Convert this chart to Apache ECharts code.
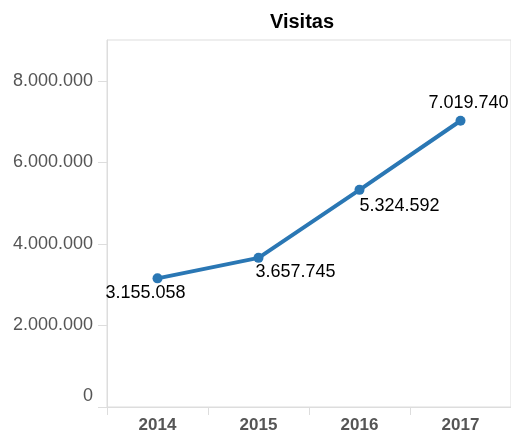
<!DOCTYPE html>
<html><head><meta charset="utf-8">
<script src="https://cdn.jsdelivr.net/npm/echarts@6/dist/echarts.min.js"></script>
<style>html,body{margin:0;padding:0;background:#fff}#c{width:511px;height:437px}</style>
</head><body><div id="c"></div>
<script>
var categories = ['2014', '2015', '2016', '2017'];
var visitas = [3155058, 3657745, 5324592, 7019740];
var yTicks = [0, 2000000, 4000000, 6000000, 8000000];
var labelOffsets = [[-12, 15], [37, 14], [40, 16], [8, -18]];

function fmt(v) {
  return String(v).replace(/\B(?=(\d{3})+(?!\d))/g, '.');
}
var font = "'Liberation Sans', Arial, Helvetica, sans-serif";
var chart = echarts.init(document.getElementById('c'), null, {renderer: 'canvas'});
chart.setOption({
  animation: false,
  title: {
    text: 'Visitas', left: 297, top: 7, textAlign: 'center',
    textStyle: {fontFamily: font, fontSize: 20, fontWeight: 'bold', color: '#000'}
  },
  grid: {left: 107, right: -3, top: 40, bottom: 30, show: true, borderColor: '#ddd', borderWidth: 1, containLabel: false},
  xAxis: {
    type: 'category', data: categories, boundaryGap: true,
    axisLine: {lineStyle: {color: '#ddd', width: 1}},
    axisTick: {show: true, length: 8, lineStyle: {color: '#ddd'}},
    axisLabel: {margin: 10, fontFamily: font, fontSize: 17, fontWeight: 'bold', color: '#555'},
    splitLine: {show: false}
  },
  yAxis: {
    type: 'value', min: 0, max: 9000000,
    axisLine: {show: true, lineStyle: {color: '#ddd', width: 1}},
    axisTick: {show: true, length: 9, customValues: yTicks, lineStyle: {color: '#ddd'}},
    axisLabel: {
      margin: 14, fontFamily: font, fontSize: 18, color: '#555',
      customValues: yTicks,
      formatter: function (v) { return v === 0 ? '{z|0}' : fmt(v); },
      rich: {z: {fontFamily: font, fontSize: 18, color: '#555', padding: [0, 0, 21, 0]}}
    },
    splitLine: {show: false}
  },
  series: [{
    type: 'line',
    data: visitas.map(function (v, i) {
      return {value: v, label: {offset: labelOffsets[i]}};
    }),
    symbol: 'circle', symbolSize: 10,
    lineStyle: {color: '#2a77b4', width: 4},
    itemStyle: {color: '#2a77b4'},
    label: {
      show: true, position: 'inside',
      fontFamily: font, fontSize: 18, color: '#000',
      formatter: function (p) { return fmt(p.value); }
    }
  }]
});
</script></body></html>
